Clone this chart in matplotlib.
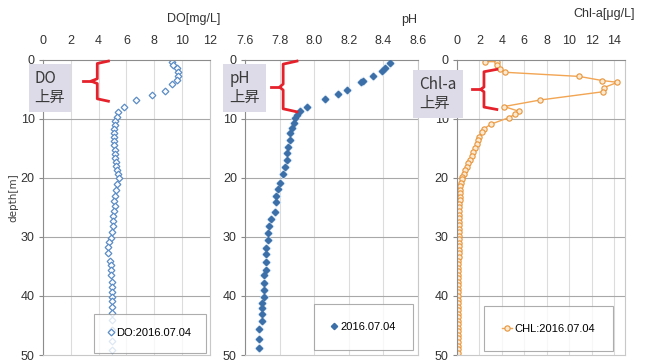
import matplotlib
matplotlib.use("Agg")
from matplotlib import pyplot as plt
import numpy as np

NARROW = ['Liberation Sans Narrow', 'Liberation Sans', 'DejaVu Sans']
JP = ['Noto Sans CJK JP', 'DejaVu Sans']

# DO profile
do_depth = [0.3, 0.85, 1.4, 2.0, 2.7, 3.4, 4.1, 5.2, 5.9, 6.8, 8.0, 8.9, 9.6,
            10.3, 11.0, 11.7, 12.4, 13.1, 13.8, 14.5, 15.2, 15.9, 16.6, 17.3, 18.0, 18.7,
            19.3, 20.0, 21.1, 22.0, 23.1, 23.9, 24.7, 25.6, 26.4, 27.3, 28.1, 29.2, 30.1,
            30.9, 31.7, 32.7, 34.0, 34.8, 35.6, 36.5, 37.6, 38.4, 39.3, 40.1, 40.9, 41.8,
            42.9, 44.0, 45.7, 47.7, 49.1]
do_val = [9.3, 9.35, 9.6, 9.7, 9.7, 9.6, 9.3, 8.8, 7.8, 6.7, 5.8, 5.4, 5.3,
          5.2, 5.15, 5.12, 5.12, 5.12, 5.12, 5.12, 5.15, 5.15, 5.2, 5.22, 5.25, 5.3,
          5.41, 5.46, 5.29, 5.25, 5.17, 5.13, 5.17, 5.13, 5.05, 5.05, 5.0, 4.93, 4.86,
          4.77, 4.69, 4.69, 4.81, 4.86, 4.89, 4.89, 4.93, 4.93, 4.93, 4.93, 4.93, 4.98,
          4.93, 4.98, 4.93, 4.93, 4.93]

# pH profile
ph_depth = [0.45, 1.3, 1.9, 2.7, 3.6, 3.8, 5.1, 5.8, 6.7, 7.9, 8.6, 9.4, 9.9,
            10.7, 11.6, 12.4, 13.6, 14.7, 15.8, 16.9, 18.1, 19.4, 20.8, 21.9, 23.0,
            24.1, 25.7, 26.9, 28.1, 29.4, 30.5, 31.8, 32.9, 34.3, 35.6, 36.5, 37.8,
            39.0, 40.1, 41.2, 42.0, 43.1, 44.2, 45.6, 47.3, 48.8]
ph_val = [8.44, 8.41, 8.39, 8.34, 8.28, 8.27, 8.19, 8.14, 8.06, 7.96, 7.92, 7.90, 7.89,
          7.88, 7.87, 7.86, 7.86, 7.85, 7.84, 7.84, 7.83, 7.82, 7.80, 7.79, 7.78,
          7.78, 7.77, 7.75, 7.74, 7.73, 7.73, 7.72, 7.72, 7.72, 7.72, 7.71, 7.71,
          7.71, 7.71, 7.70, 7.70, 7.70, 7.70, 7.68, 7.68, 7.68]

# Chl-a profile
chl_depth = [0.3, 0.3, 0.9, 1.5, 2.1, 2.8, 3.5, 3.8, 4.7, 5.4, 6.8, 7.9, 8.7, 9.2, 9.8,
             10.9, 11.7, 12.3, 13.0, 13.6, 14.3, 15.0, 15.6, 16.3, 16.9, 17.5, 18.1,
             18.7, 19.3, 19.8,
             20.2, 20.8, 21.4, 22.0, 22.6, 23.2, 23.8, 24.4, 25.0, 25.6, 26.2, 26.8,
             27.4, 28.0, 28.6, 29.2, 29.8, 30.4, 31.0, 31.6, 32.2, 32.8, 33.4, 34.0,
             34.6, 35.2, 35.8, 36.4, 37.0, 37.6, 38.2, 38.8, 39.4, 40.0, 40.6, 41.2,
             41.8, 42.4, 43.0, 43.6, 44.2, 44.8, 45.4, 46.0, 46.6, 47.2, 47.8, 48.4,
             49.0, 49.6]
chl_val = [2.5, 3.55, 3.55, 3.8, 4.3, 10.9, 12.95, 14.3, 13.1, 13.0, 7.4, 4.2, 5.5, 5.2, 4.6,
           3.0, 2.4, 2.2, 1.95, 1.85, 1.75, 1.6, 1.45, 1.3, 1.15, 1.0, 0.9,
           0.75, 0.6, 0.45,
           0.40, 0.33, 0.30, 0.27, 0.25, 0.23, 0.22, 0.20, 0.20, 0.19, 0.18, 0.18,
           0.17, 0.16, 0.16, 0.15, 0.15, 0.14, 0.14, 0.14, 0.13, 0.13, 0.13, 0.12,
           0.12, 0.12, 0.12, 0.11, 0.11, 0.11, 0.11, 0.11, 0.10, 0.10, 0.10, 0.10,
           0.10, 0.10, 0.10, 0.10, 0.10, 0.10, 0.10, 0.10, 0.10, 0.10, 0.10, 0.10,
           0.10, 0.10]

depth_ticks = [0, 10, 20, 30, 40, 50]
do_ticks = [0, 2, 4, 6, 8, 10, 12]
ph_ticks = [7.6, 7.8, 8.0, 8.2, 8.4, 8.6]
chl_ticks = [0, 2, 4, 6, 8, 10, 12, 14]

fig = plt.figure(figsize=(6.52, 3.63), dpi=100)
fig.patch.set_facecolor('white')


def setup(ax, xlim, xticks, xticklabels):
	ax.set_xlim(*xlim)
	ax.set_ylim(50, 0)
	ax.xaxis.tick_top()
	ax.set_xticks(xticks)
	ax.set_xticklabels(xticklabels, family=NARROW, fontsize=9, color='#333333')
	ax.set_yticks(depth_ticks)
	ax.set_yticklabels([str(t) for t in depth_ticks], family=NARROW, fontsize=9, color='#333333')
	ax.tick_params(axis='x', length=0, pad=9)
	ax.tick_params(axis='y', length=3, color='#888888', pad=3)
	for t in xticks:
		ax.axvline(t, color='#dcdcdc', lw=0.8, zorder=0)
	for d in depth_ticks[1:-1]:
		ax.axhline(d, color='#a8a8a8', lw=0.8, zorder=0)
	for s in ['left', 'top']:
		ax.spines[s].set_color('#8c8c8c')
	for s in ['right', 'bottom']:
		ax.spines[s].set_color('#c8c8c8')


def bracket(ax, x_line, x_notch, x_v, x_tip, top, mid, bottom, label, box_xy):
	r = 0.06 * (bottom - top)
	ax.plot([x_tip, x_v, x_v, x_notch, x_v, x_v, x_tip],
	        [top, top + r, mid - r, mid, mid + r, bottom - r, bottom],
	        color='#e5222b', lw=2.0, clip_on=False, zorder=6, solid_joinstyle='round')
	ax.plot([x_line, x_notch], [mid, mid], color='#e5222b', lw=2.0, clip_on=False, zorder=6)
	ax.text(box_xy[0], box_xy[1], label, transform=ax.transAxes, ha='left', va='center',
	        family=JP, fontsize=11, color='#3a3a3a', linespacing=1.15, zorder=7, clip_on=False,
	        bbox=dict(boxstyle='square,pad=0.4', facecolor='#dedbe8', edgecolor='none'))


def add_legend(ax, anchor, hl, pad):
	leg = ax.legend(loc='lower right', bbox_to_anchor=anchor, frameon=True, fancybox=False,
	                prop={'family': NARROW, 'size': 8}, handlelength=hl, handletextpad=0.25,
	                borderpad=pad, borderaxespad=0.2)
	leg.get_frame().set_edgecolor('#999999')
	leg.get_frame().set_linewidth(0.8)


ax1 = fig.add_axes([0.066, 0.022, 0.256, 0.813])
setup(ax1, (0, 12), do_ticks, [str(t) for t in do_ticks])
ax1.plot(do_val, do_depth, linestyle='none', marker='D', ms=3.4, mfc='white',
         mec='#5b8cc5', mew=0.9, label='DO:2016.07.04')
ax1.text(1.06, 1.14, 'DO[mg/L]', transform=ax1.transAxes, ha='right', va='center',
         family=NARROW, fontsize=9, color='#333333')
fig.text(0.021, 0.455, 'depth[m]', rotation=90, ha='center', va='center',
         fontsize=7.5, color='#404040')
add_legend(ax1, (0.99, 0.0), 0.5, 1.3)
bracket(ax1, 2.9, 3.45, 3.9, 4.7, 0.2, 3.6, 7.0, 'DO\n上昇', (-0.05, 0.905))

ax2 = fig.add_axes([0.376, 0.022, 0.265, 0.813])
setup(ax2, (7.6, 8.6), ph_ticks, ['7.6', '7.8', '8.0', '8.2', '8.4', '8.6'])
ax2.plot(ph_val, ph_depth, linestyle='none', marker='D', ms=5.0, mfc='#d4e6f7',
         mec='none', zorder=2)
ax2.plot(ph_val, ph_depth, linestyle='none', marker='D', ms=3.2, mfc='#3c6fa8',
         mec='#3c6fa8', zorder=3, label='2016.07.04')
ax2.text(0.994, 1.135, 'pH', transform=ax2.transAxes, ha='right', va='center',
         family=NARROW, fontsize=9, color='#333333')
add_legend(ax2, (0.985, 0.01), 0.5, 1.6)
bracket(ax2, 7.75, 7.80, 7.82, 7.90, 0.2, 4.6, 8.8, 'pH\n上昇', (-0.09, 0.905))

ax3 = fig.add_axes([0.701, 0.022, 0.258, 0.813])
setup(ax3, (0, 15), chl_ticks, [str(t) for t in chl_ticks])
ax3.plot(chl_val, chl_depth, color='#f2a553', lw=1.0, marker='o', ms=3.8, mfc='#fbe9d2',
         mec='#e8953a', mew=0.8, label='CHL:2016.07.04')
ax3.text(1.06, 1.155, 'Chl-a[μg/L]', transform=ax3.transAxes, ha='right', va='center',
         family=NARROW, fontsize=9, color='#333333')
add_legend(ax3, (0.94, 0.005), 0.9, 1.6)
bracket(ax3, 1.3, 2.1, 2.4, 3.55, 1.6, 5.0, 8.4, 'Chl-a\n上昇', (-0.225, 0.885))

fig.savefig('out.png', dpi=100)
